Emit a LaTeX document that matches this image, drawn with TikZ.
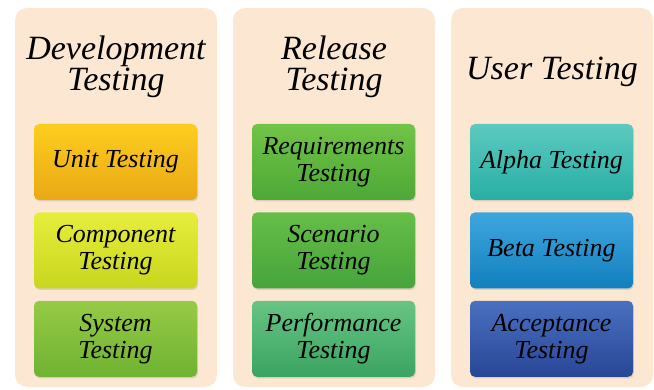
\documentclass[tikz,border=0pt]{standalone}
\usepackage{fontspec}
\setmainfont{Liberation Serif}
\usetikzlibrary{positioning,shadows}

\definecolor{peach}{RGB}{252,232,210}
\definecolor{unitTop}{RGB}{252,205,30}
\definecolor{unitBot}{RGB}{234,168,22}
\definecolor{compTop}{RGB}{230,238,60}
\definecolor{compBot}{RGB}{200,214,30}
\definecolor{sysTop}{RGB}{150,202,70}
\definecolor{sysBot}{RGB}{112,178,50}
\definecolor{reqTop}{RGB}{112,196,70}
\definecolor{reqBot}{RGB}{78,168,55}
\definecolor{scenTop}{RGB}{102,190,72}
\definecolor{scenBot}{RGB}{70,164,60}
\definecolor{perfTop}{RGB}{104,196,130}
\definecolor{perfBot}{RGB}{58,164,98}
\definecolor{alphaTop}{RGB}{92,202,192}
\definecolor{alphaBot}{RGB}{40,174,164}
\definecolor{betaTop}{RGB}{62,166,222}
\definecolor{betaBot}{RGB}{18,128,190}
\definecolor{accTop}{RGB}{74,112,192}
\definecolor{accBot}{RGB}{40,70,150}

\begin{document}
\begin{tikzpicture}[x=1pt, y=1pt,
    column/.style={fill=peach, rounded corners=12pt, minimum width=202pt,
        minimum height=379pt, inner sep=0pt},
    heading/.style={font=\fontsize{34}{31}\selectfont\itshape, align=center,
        inner sep=0pt},
    testbox/.style={rounded corners=5pt, minimum width=163pt, minimum height=76pt,
        inner sep=0pt, align=center, font=\fontsize{26}{27}\selectfont\itshape,
        top color=#1Top, bottom color=#1Bot,
        drop shadow={opacity=0.25, shadow xshift=1pt, shadow yshift=-1.5pt}}]
    \useasboundingbox (0,0) rectangle (654,389);
    % Columns
    \foreach \name/\x in {dev/116, rel/334, usr/552}
    {
        \node[column] (\name) at (\x,191.5) {};
    }
    % Headings
    \node[heading] (devhead) at (116,322) {Development\\Testing};
    \node[heading] (relhead) at (334,322) {Release\\Testing};
    \node[heading] (usrhead) at (552,317) {User Testing};
    % Development testing
    \node[testbox=unit] (unit) at (115.5,227) {Unit Testing};
    \node[testbox=comp, below=12pt of unit] (comp) {Component\\Testing};
    \node[testbox=sys, below=12pt of comp] (sys) {System\\Testing};
    % Release testing
    \node[testbox=req] (req) at (333.5,227) {Requirements\\Testing};
    \node[testbox=scen, below=12pt of req] (scen) {Scenario\\Testing};
    \node[testbox=perf, below=12pt of scen] (perf) {Performance\\Testing};
    % User testing
    \node[testbox=alpha] (alpha) at (551.5,227) {Alpha Testing};
    \node[testbox=beta, below=12pt of alpha] (beta) {Beta Testing};
    \node[testbox=acc, below=12pt of beta] (acc) {Acceptance\\Testing};
\end{tikzpicture}
\end{document}
